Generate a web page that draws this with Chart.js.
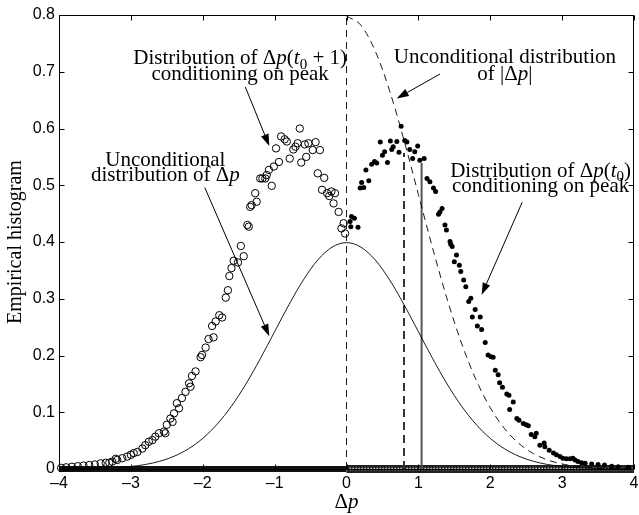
<!DOCTYPE html>
<html>
<head>
<meta charset="utf-8">
<script src="https://cdn.jsdelivr.net/npm/chart.js@4.4.0/dist/chart.umd.min.js"></script>
<style>
  html, body { margin: 0; padding: 0; background: #fff; }
  canvas { display: block; }
</style>
</head>
<body>
<canvas id="histChart" width="639" height="515"></canvas>
<script>
// --- Unconditional distribution of Δp ---
const curveX = [-4, -3.8, -3.6, -3.4, -3.2, -3, -2.8, -2.6, -2.4, -2.2, -2, -1.8, -1.6, -1.4, -1.2, -1, -0.8, -0.6, -0.4, -0.2,
  0, 0.2, 0.4, 0.6, 0.8, 1, 1.2, 1.4, 1.6, 1.8, 2, 2.2, 2.4, 2.6, 2.8, 3, 3.2, 3.4, 3.6, 3.8, 4];
const curveY = [0.0001, 0.0003, 0.0006, 0.0012, 0.0024, 0.0044, 0.0079, 0.0136, 0.0224, 0.0355, 0.054, 0.079, 0.1109, 0.1497,
  0.1942, 0.242, 0.2897, 0.3332, 0.3683, 0.391, 0.3989, 0.391, 0.3683, 0.3332, 0.2897, 0.242, 0.1942, 0.1497, 0.1109, 0.079,
  0.054, 0.0355, 0.0224, 0.0136, 0.0079, 0.0044, 0.0024, 0.0012, 0.0006, 0.0003, 0.0001];

// --- Unconditional distribution of |Δp| (dashed curve) ---
const absX = [0, 0.2, 0.4, 0.6, 0.8, 1, 1.2, 1.4, 1.6, 1.8, 2, 2.2, 2.4, 2.6, 2.8, 3, 3.2, 3.4, 3.6, 3.8, 4];
const absY = [0.7979, 0.7821, 0.7365, 0.6664, 0.5794, 0.4839, 0.3884, 0.2995, 0.2218, 0.1579, 0.108, 0.071, 0.0448, 0.0272,
  0.0158, 0.0089, 0.0048, 0.0025, 0.0012, 0.0006, 0.0003];

// --- Δp(t0+1) conditioning on peak (open circles) ---
const openX = [-3.97, -3.9, -3.82, -3.74, -3.66, -3.58, -3.5, -3.42, -3.35, -3.3, -3.26, -3.21, -3.19, -3.12, -3.05, -3, -2.96,
  -2.91, -2.84, -2.8, -2.75, -2.7, -2.66, -2.61, -2.54, -2.52, -2.5, -2.45, -2.42, -2.4, -2.36, -2.33, -2.29, -2.24, -2.19,
  -2.17, -2.15, -2.1, -2.03, -2.01, -1.96, -1.92, -1.87, -1.85, -1.82, -1.77, -1.73, -1.68, -1.65, -1.63, -1.6, -1.57, -1.51,
  -1.47, -1.43, -1.38, -1.36, -1.34, -1.32, -1.27, -1.25, -1.2, -1.17, -1.13, -1.11, -1.08, -1.04, -1.01, -0.98, -0.94, -0.91,
  -0.86, -0.83, -0.79, -0.74, -0.71, -0.68, -0.65, -0.63, -0.58, -0.56, -0.53, -0.47, -0.43, -0.4, -0.37, -0.34, -0.31, -0.27,
  -0.24, -0.21, -0.18, -0.16, -0.11, -0.07, -0.04, -0.02];
const openY = [0.002, 0.003, 0.004, 0.005, 0.006, 0.007, 0.008, 0.01, 0.011, 0.011, 0.013, 0.018, 0.016, 0.019, 0.022, 0.025,
  0.028, 0.03, 0.036, 0.042, 0.048, 0.051, 0.057, 0.063, 0.066, 0.063, 0.078, 0.089, 0.083, 0.098, 0.116, 0.107, 0.125, 0.136,
  0.151, 0.145, 0.164, 0.172, 0.197, 0.201, 0.214, 0.229, 0.252, 0.232, 0.26, 0.271, 0.267, 0.302, 0.315, 0.34, 0.354, 0.367,
  0.364, 0.393, 0.375, 0.43, 0.427, 0.462, 0.465, 0.486, 0.471, 0.512, 0.512, 0.512, 0.518, 0.527, 0.499, 0.533, 0.565, 0.541,
  0.586, 0.581, 0.577, 0.547, 0.563, 0.568, 0.574, 0.6, 0.54, 0.572, 0.55, 0.574, 0.562, 0.576, 0.521, 0.562, 0.492, 0.513,
  0.486, 0.481, 0.489, 0.468, 0.486, 0.453, 0.424, 0.433, 0.415];

// --- Δp(t0) conditioning on peak (filled dots) ---
const dotX = [0.05, 0.06, 0.07, 0.11, 0.16, 0.19, 0.21, 0.24, 0.27, 0.31, 0.35, 0.39, 0.42, 0.47, 0.5, 0.53, 0.57, 0.61, 0.63,
  0.65, 0.7, 0.73, 0.76, 0.81, 0.84, 0.88, 0.92, 0.95, 0.99, 1.02, 1.08, 1.12, 1.16, 1.21, 1.24, 1.28, 1.3, 1.33, 1.37, 1.39,
  1.44, 1.45, 1.47, 1.5, 1.53, 1.57, 1.59, 1.63, 1.66, 1.7, 1.73, 1.75, 1.79, 1.82, 1.86, 1.88, 1.93, 1.97, 2.01, 2.04, 2.07,
  2.11, 2.13, 2.17, 2.23, 2.26, 2.27, 2.32, 2.37, 2.4, 2.46, 2.5, 2.53, 2.57, 2.62, 2.64, 2.69, 2.75, 2.76, 2.82, 2.88, 2.92,
  2.97, 3.01, 3.06, 3.11, 3.15, 3.18, 3.22, 3.27, 3.32, 3.41, 3.5, 3.59, 3.69, 3.78, 3.92];
const dotY = [0.436, 0.427, 0.445, 0.442, 0.426, 0.495, 0.505, 0.496, 0.527, 0.508, 0.537, 0.542, 0.539, 0.576, 0.553, 0.559,
  0.54, 0.578, 0.563, 0.568, 0.577, 0.558, 0.604, 0.579, 0.576, 0.563, 0.547, 0.559, 0.569, 0.544, 0.547, 0.512, 0.506, 0.495,
  0.489, 0.449, 0.453, 0.459, 0.43, 0.421, 0.401, 0.396, 0.392, 0.365, 0.377, 0.359, 0.348, 0.333, 0.321, 0.295, 0.301, 0.268,
  0.281, 0.252, 0.268, 0.246, 0.223, 0.201, 0.198, 0.197, 0.174, 0.166, 0.152, 0.144, 0.132, 0.13, 0.105, 0.118, 0.089, 0.086,
  0.08, 0.078, 0.076, 0.061, 0.057, 0.063, 0.042, 0.046, 0.039, 0.033, 0.028, 0.025, 0.022, 0.019, 0.018, 0.018, 0.019, 0.016,
  0.013, 0.011, 0.01, 0.009, 0.008, 0.007, 0.005, 0.004, 0.003];

// --- zero-valued bins along the axis: filled dots on the left half, circles on the right ---
const zeroDotsRange = [-4, 0];
const zeroCirclesRange = [0, 4];

// --- vertical markers: [x, top] ---
const zeroLine = [0, 0.8];
const meanAbs = [0.8, 0.557];
const meanPeak = [1.045, 0.539];

const xTicks = [-4, -3, -2, -1, 0, 1, 2, 3, 4];
const yTicks = [0, 0.1, 0.2, 0.3, 0.4, 0.5, 0.6, 0.7, 0.8];

const serif = '"Liberation Serif", "Times New Roman", serif';
const sans = '"Liberation Sans", Arial, sans-serif';
const noteSize = 21;

const pts = (xs, ys) => xs.map((x, i) => ({ x: x, y: ys[i] }));
const vline = (v) => [{ x: v[0], y: 0 }, { x: v[0], y: v[1] }];
const hband = (r) => [{ x: r[0], y: 0 }, { x: r[1], y: 0 }];

// --- annotation text: runs of {t, it (italic), sub} ---
const notes = [
  { x: -1.479, lines: [[0.713, [{ t: 'Distribution of Δ' }, { t: 'p', it: 1 }, { t: '(' }, { t: 't', it: 1 }, { t: '0', sub: 1 }, { t: ' + 1)' }]],
                       [0.685, [{ t: 'conditioning on peak' }]]],
    arrow: [-1.407, 0.673, -1.074, 0.569] },
  { x: -2.52, lines: [[0.534, [{ t: 'Unconditional' }]],
                      [0.507, [{ t: 'distribution of Δ' }, { t: 'p', it: 1 }]]],
    arrow: [-1.972, 0.496, -1.074, 0.234] },
  { x: 2.204, lines: [[0.715, [{ t: 'Unconditional distribution' }]],
                      [0.685, [{ t: 'of |Δ' }, { t: 'p', it: 1 }, { t: '|' }]]],
    arrow: [1.301, 0.696, 0.699, 0.653] },
  { x: 2.70, lines: [[0.515, [{ t: 'Distribution of Δ' }, { t: 'p', it: 1 }, { t: '(' }, { t: 't', it: 1 }, { t: '0', sub: 1 }, { t: ')' }]],
                     [0.4876, [{ t: 'conditioning on peak' }]]],
    arrow: [2.444, 0.470, 1.880, 0.307] }
];

function runFont(p, size) {
  return (p.it ? 'italic ' : '') + (p.sub ? Math.round(size * 0.7) : size) + 'px ' + serif;
}

function drawRich(ctx, parts, cx, baseY, size) {
  let w = 0;
  parts.forEach(p => { ctx.font = runFont(p, size); w += ctx.measureText(p.t).width; });
  let x = cx - w / 2;
  parts.forEach(p => {
    ctx.font = runFont(p, size);
    ctx.fillText(p.t, x, baseY + (p.sub ? size * 0.22 : 0));
    x += ctx.measureText(p.t).width;
  });
}

function drawArrow(ctx, x1, y1, x2, y2) {
  const ang = Math.atan2(y2 - y1, x2 - x1);
  const len = 12, half = 4;
  const bx = x2 - len * Math.cos(ang), by = y2 - len * Math.sin(ang);
  ctx.beginPath();
  ctx.moveTo(x1, y1);
  ctx.lineTo(bx, by);
  ctx.stroke();
  ctx.beginPath();
  ctx.moveTo(x2, y2);
  ctx.lineTo(bx + half * Math.sin(ang), by - half * Math.cos(ang));
  ctx.lineTo(bx - half * Math.sin(ang), by + half * Math.cos(ang));
  ctx.closePath();
  ctx.fill();
}

// --- annotations, box and inward ticks ---
const notesPlugin = {
  id: 'notes',
  afterDatasetsDraw(chart) {
    const { ctx, scales: { x, y } } = chart;
    ctx.save();
    ctx.fillStyle = '#000';
    ctx.strokeStyle = '#000';
    ctx.lineWidth = 1;
    ctx.textBaseline = 'alphabetic';
    notes.forEach(n => {
      n.lines.forEach(l => drawRich(ctx, l[1], x.getPixelForValue(n.x), y.getPixelForValue(l[0]), noteSize));
      const a = n.arrow;
      drawArrow(ctx, x.getPixelForValue(a[0]), y.getPixelForValue(a[1]), x.getPixelForValue(a[2]), y.getPixelForValue(a[3]));
    });
    // x axis title Δp
    drawRich(ctx, [{ t: 'Δ' }, { t: 'p', it: 1 }], (chart.chartArea.left + chart.chartArea.right) / 2, 508, 21);
    ctx.restore();
  }
};

const framePlugin = {
  id: 'frame',
  afterDraw(chart) {
    const { ctx, chartArea: a, scales: { x, y } } = chart;
    const l = Math.round(a.left) + 0.5, r = Math.round(a.right) - 0.5;
    const t = Math.round(a.top) + 0.5, b = Math.round(a.bottom) + 0.5;
    ctx.save();
    ctx.strokeStyle = '#000';
    ctx.lineWidth = 1;
    ctx.strokeRect(l, t, r - l, b - t);
    ctx.beginPath();
    xTicks.forEach(v => {
      const px = Math.round(x.getPixelForValue(v)) + 0.5;
      ctx.moveTo(px, b); ctx.lineTo(px, b - 5);
      ctx.moveTo(px, t); ctx.lineTo(px, t + 5);
    });
    yTicks.forEach(v => {
      const py = Math.round(y.getPixelForValue(v)) + 0.5;
      ctx.moveTo(l, py); ctx.lineTo(l + 5, py);
      ctx.moveTo(r, py); ctx.lineTo(r - 5, py);
    });
    ctx.stroke();
    ctx.restore();
  }
};

const line = (data, extra) => Object.assign({
  data: data, showLine: true, pointRadius: 0, borderColor: '#000', borderWidth: 1, fill: false, clip: false
}, extra);

new Chart(document.getElementById('histChart').getContext('2d'), {
  type: 'scatter',
  data: {
    datasets: [
      {
        label: 'Δp(t0+1) conditioning on peak',
        data: pts(openX, openY),
        pointStyle: 'circle', pointRadius: 3.7, borderWidth: 1,
        borderColor: '#000', backgroundColor: 'rgba(0,0,0,0)', clip: false
      },
      {
        label: 'Δp(t0) conditioning on peak',
        data: pts(dotX, dotY),
        pointStyle: 'circle', pointRadius: 2.5, borderWidth: 0,
        backgroundColor: '#000', clip: false
      },
      line(pts(curveX, curveY), { label: 'Unconditional Δp', cubicInterpolationMode: 'monotone', borderWidth: 0.9 }),
      line(pts(absX, absY), { label: 'Unconditional |Δp|', cubicInterpolationMode: 'monotone', borderWidth: 0.9, borderDash: [7, 5] }),
      line(vline(zeroLine), { label: 'zero', borderWidth: 0.9, borderDash: [7, 5] }),
      line(vline(meanAbs), { label: 'mean |Δp|', borderWidth: 2, borderColor: '#333', borderDash: [8, 5] }),
      line(vline(meanPeak), { label: 'mean Δp(t0)', borderWidth: 2, borderColor: '#555' }),
      line(hband(zeroCirclesRange), { label: 'zero circles inner', borderWidth: 2.6, borderColor: '#eee', borderDash: [1.3, 1.7] }),
      line(hband(zeroCirclesRange), { label: 'zero circles', borderWidth: 8, borderColor: '#222' }),
      line(hband(zeroDotsRange), { label: 'zero dots', borderWidth: 6, borderColor: '#111' })
    ]
  },
  options: {
    responsive: false,
    animation: false,
    devicePixelRatio: 1,
    layout: { padding: { top: 15, right: 2, left: 0, bottom: 0 } },
    plugins: { legend: { display: false }, tooltip: { enabled: false } },
    scales: {
      x: {
        type: 'linear', min: -4, max: 4,
        grid: { display: false, drawTicks: false },
        border: { display: false },
        ticks: {
          stepSize: 1, padding: 5, color: '#000', maxRotation: 0, autoSkip: false,
          font: { family: sans, size: 16 },
          callback: v => String(v).replace('-', '\u2013')
        },
        afterFit(s) { s.height = 46; s.paddingLeft = 0; s.paddingRight = 0; }
      },
      y: {
        type: 'linear', min: 0, max: 0.8,
        grid: { display: false, drawTicks: false },
        border: { display: false },
        ticks: {
          stepSize: 0.1, padding: 4, color: '#000',
          font: { family: sans, size: 16 },
          callback: v => (v === 0 ? '0' : v.toFixed(1))
        },
        title: {
          display: true, text: 'Empirical histogram', color: '#000',
          font: { family: serif, size: 20 }, padding: { top: 4, bottom: 0 }
        },
        afterFit(s) { s.width = 59; s.paddingTop = 0; s.paddingBottom = 0; }
      }
    }
  },
  plugins: [notesPlugin, framePlugin]
});
</script>
</body>
</html>
